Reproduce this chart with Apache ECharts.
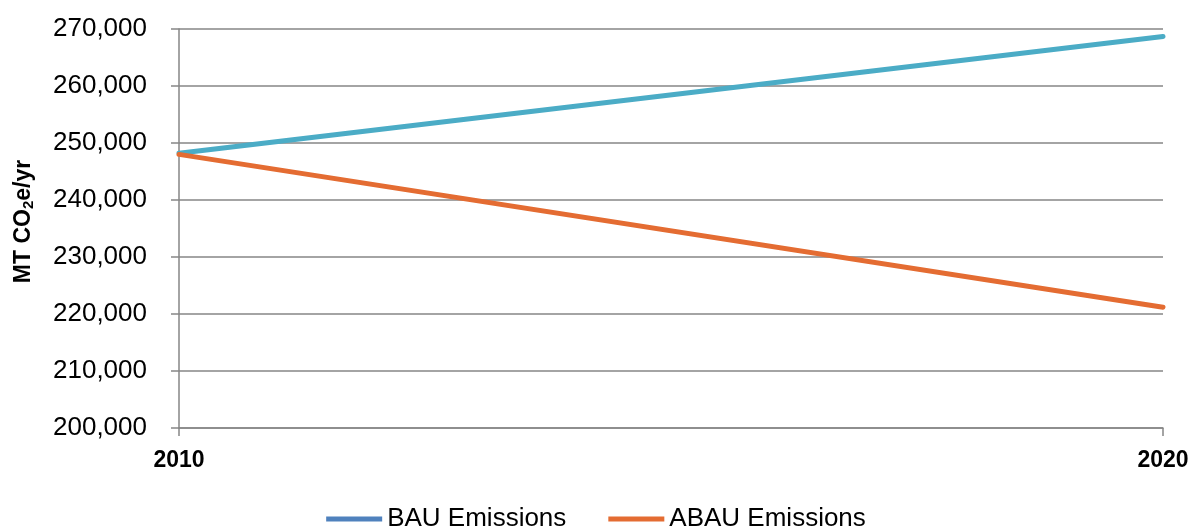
<!DOCTYPE html>
<html>
<head>
<meta charset="utf-8">
<script src="https://cdn.jsdelivr.net/npm/echarts@6/dist/echarts.min.js"></script>
<style>html,body{margin:0;padding:0;background:#fff}#c{width:1192px;height:527px}</style>
</head>
<body>
<div id="c"></div>
<script>
var years = ['2010', '2020'];
var bauEmissions = [248200, 268700];
var abauEmissions = [248000, 221200];
var seriesNames = ['BAU Emissions', 'ABAU Emissions'];

var chart = echarts.init(document.getElementById('c'), null, {renderer: 'canvas'});
var gridColor = '#868686';
chart.setOption({
  animation: false,
  backgroundColor: '#ffffff',
  grid: {left: 179, right: 29, top: 29, bottom: 99, containLabel: false, outerBoundsMode: 'none'},
  legend: {
    top: 501,
    left: 'center',
    itemWidth: 56,
    itemHeight: 14,
    itemGap: 42,
    textStyle: {fontFamily: 'Liberation Sans, Arial', fontSize: 26, color: '#000'},
    data: [
      {name: seriesNames[0], icon: 'path://M0,0 L56,0 L56,5 L0,5 Z', itemStyle: {color: '#4F81BD'}},
      {name: seriesNames[1], icon: 'path://M0,0 L56,0 L56,5 L0,5 Z', itemStyle: {color: '#E46C32'}}
    ]
  },
  xAxis: {
    type: 'category',
    data: years,
    boundaryGap: false,
    axisLine: {show: true, lineStyle: {color: gridColor, width: 1.5}},
    axisTick: {show: true, length: 8, lineStyle: {color: gridColor, width: 1.5}},
    axisLabel: {margin: 21, fontFamily: 'Liberation Sans, Arial', fontWeight: 'bold', fontSize: 23, color: '#000'},
    splitLine: {show: false}
  },
  yAxis: {
    type: 'value',
    min: 200000,
    max: 270000,
    interval: 10000,
    axisLine: {show: true, lineStyle: {color: gridColor, width: 1.5}},
    axisTick: {show: true, length: 8, lineStyle: {color: gridColor, width: 1.5}},
    axisLabel: {
      margin: 32,
      fontFamily: 'Liberation Sans, Arial',
      fontSize: 26,
      color: '#000',
      formatter: function (v) { return v.toLocaleString('en-US'); }
    },
    splitLine: {show: true, lineStyle: {color: gridColor, width: 1.5}},
    name: '{a|MT CO}{s|2}{a|e/yr}',
    nameLocation: 'middle',
    nameGap: 143,
    nameRotate: 90,
    nameTextStyle: {
      padding: [0, 0, 0, 14],
      rich: {
        a: {fontFamily: 'Liberation Sans, Arial', fontWeight: 'bold', fontSize: 23, color: '#000'},
        s: {fontFamily: 'Liberation Sans, Arial', fontWeight: 'bold', fontSize: 15, color: '#000', padding: [9, 0, 0, 0]}
      }
    }
  },
  series: [
    {
      name: seriesNames[0], type: 'line', data: bauEmissions, symbol: 'none',
      lineStyle: {color: '#4BACC6', width: 5, cap: 'round'}, itemStyle: {color: '#4F81BD'}
    },
    {
      name: seriesNames[1], type: 'line', data: abauEmissions, symbol: 'none',
      lineStyle: {color: '#E46C32', width: 5, cap: 'round'}, itemStyle: {color: '#E46C32'}
    }
  ]
});
</script>
</body>
</html>
